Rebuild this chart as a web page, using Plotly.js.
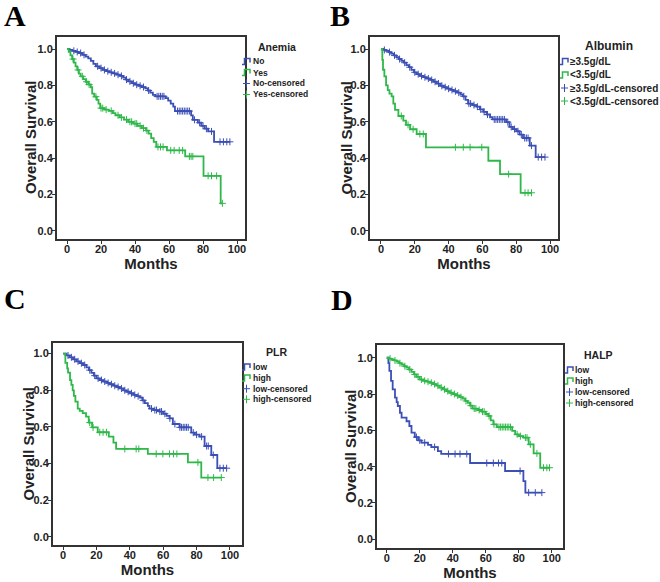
<!DOCTYPE html>
<html>
<head>
<meta charset="utf-8">
<script src="https://cdn.plot.ly/plotly-3.0.1.min.js"></script>
<style>
  html, body { margin: 0; padding: 0; background: #fff; }
  #chart { width: 660px; height: 582px; }
</style>
</head>
<body>
<div id="chart"></div>
<script>
// ---- data (event times in months, survival after each event) ----

// A: Anemia
const aNoTimes = [1.5, 3, 5, 7, 9, 11, 12.5, 14, 15.5, 17, 19, 21, 23, 25, 27, 29, 31, 33, 34.5, 36, 38, 40, 42, 44, 46, 47.5, 49, 50.5, 52, 58, 59.5, 61, 62.5, 63.5, 73, 74, 77, 79, 81, 83, 86.5];
const aNoSurv = [0.995, 0.99, 0.984, 0.978, 0.968, 0.958, 0.948, 0.935, 0.918, 0.905, 0.895, 0.885, 0.878, 0.872, 0.866, 0.859, 0.852, 0.843, 0.832, 0.822, 0.812, 0.804, 0.798, 0.791, 0.784, 0.772, 0.76, 0.748, 0.74, 0.73, 0.716, 0.70, 0.683, 0.659, 0.635, 0.611, 0.595, 0.578, 0.562, 0.547, 0.49];
const aNoCensor = [4, 6, 8, 10, 18, 20, 22, 24, 26, 28, 30, 32, 35, 37, 39, 41, 43, 45, 48, 53, 54, 55, 56, 57, 65, 66, 67, 68, 69, 70, 71, 72, 75, 78, 80, 82, 85, 90, 92, 94, 95.8];
const aYesTimes = [1, 2, 3, 4, 5, 6, 7, 8, 9.5, 11, 12.5, 14, 14.8, 16, 17.5, 18.5, 19.5, 22, 24.5, 27, 28.5, 31, 33.5, 36, 39, 41.5, 44, 46.5, 48, 49.5, 51, 52.5, 58.8, 69.5, 80.3, 90.4];
const aYesSurv = [0.985, 0.965, 0.945, 0.925, 0.905, 0.885, 0.865, 0.85, 0.835, 0.82, 0.805, 0.79, 0.755, 0.738, 0.72, 0.7, 0.675, 0.667, 0.66, 0.648, 0.636, 0.624, 0.612, 0.6, 0.59, 0.578, 0.565, 0.552, 0.535, 0.51, 0.49, 0.462, 0.443, 0.41, 0.303, 0.152];
const aYesCensor = [3.5, 6.5, 9, 11.5, 13, 17, 20, 21, 23, 26, 30, 32, 35, 37, 38, 40, 41, 43, 45, 47, 53.5, 55, 56.5, 61, 63, 66, 68, 72, 73, 74, 83, 85, 88, 91.4];

// B: Albumin
const bHiTimes = [1.5, 3, 4.5, 6, 7.5, 9, 10.5, 12, 13.5, 15, 16.5, 18, 19.5, 21, 23, 25, 27, 29, 31, 33, 35, 37, 39, 41, 43, 45, 47, 48.5, 50, 51.5, 54, 56.5, 58.5, 60.5, 62.5, 64.5, 66, 74, 76, 78, 80, 82, 84, 88, 91.5];
const bHiSurv = [0.995, 0.99, 0.983, 0.975, 0.965, 0.955, 0.945, 0.935, 0.925, 0.912, 0.9, 0.885, 0.872, 0.862, 0.852, 0.845, 0.838, 0.83, 0.82, 0.81, 0.798, 0.79, 0.782, 0.775, 0.768, 0.76, 0.75, 0.74, 0.72, 0.7, 0.692, 0.683, 0.668, 0.655, 0.64, 0.625, 0.613, 0.598, 0.572, 0.56, 0.548, 0.53, 0.511, 0.469, 0.406];
const bHiCensor = [2, 5, 8, 11, 14, 17, 20, 22, 24, 26, 28, 30, 32, 34, 36, 38, 40, 42, 44, 46, 49, 52, 53, 55, 57, 59, 61, 63, 67, 68, 69, 70, 71, 72, 73, 75, 77, 79, 81, 83, 85, 86, 87, 89, 93, 95, 97];
const bLoTimes = [0.8, 1.2, 2, 3, 4, 5, 6.3, 7.3, 8.3, 10.3, 13.2, 14.8, 17.2, 21.1, 26.6, 63.5, 70.4, 82.6];
const bLoSurv = [0.94, 0.886, 0.85, 0.80, 0.774, 0.755, 0.74, 0.70, 0.665, 0.632, 0.607, 0.583, 0.559, 0.533, 0.46, 0.386, 0.3125, 0.21];
const bLoCensor = [12, 16, 19, 23, 25, 44, 48.7, 52.7, 59.6, 75.5, 85.2, 87, 89];

// C: PLR
const cLowTimes = [2, 4, 6, 8, 10, 12, 14, 15.5, 17, 18.5, 20, 22, 24, 26, 28, 30, 32, 34, 36, 38, 40, 42, 44, 46, 47.5, 49, 50.8, 51.8, 54, 57.8, 60, 62, 63.8, 65.8, 69.8, 76.8, 79, 81.8, 84.8, 88.8, 92.4];
const cLowSurv = [0.99, 0.98, 0.969, 0.958, 0.948, 0.938, 0.925, 0.91, 0.895, 0.88, 0.865, 0.856, 0.848, 0.84, 0.833, 0.825, 0.818, 0.81, 0.8, 0.792, 0.784, 0.775, 0.768, 0.76, 0.745, 0.73, 0.715, 0.70, 0.692, 0.684, 0.672, 0.66, 0.647, 0.616, 0.598, 0.569, 0.558, 0.547, 0.496, 0.447, 0.375];
const cLowCensor = [3, 5, 7, 9, 11, 13, 16, 19, 21, 23, 25, 27, 29, 31, 33, 35, 37, 39, 41, 43, 45, 48, 53, 55, 56, 58, 59, 61, 64, 67, 70, 71, 72, 73, 74, 75, 78, 80, 83, 86, 87, 90, 94, 96, 98];
const cHighTimes = [1.4, 2.5, 3, 4.2, 5, 5.8, 6.5, 7.4, 8.8, 10, 11.8, 13.8, 15.4, 17.4, 20.8, 27.4, 30.2, 31.8, 50.8, 74.8, 82.8];
const cHighSurv = [0.95, 0.92, 0.896, 0.856, 0.83, 0.80, 0.77, 0.738, 0.70, 0.688, 0.675, 0.656, 0.624, 0.598, 0.571, 0.547, 0.515, 0.48, 0.453, 0.407, 0.324];
const cHighCensor = [16, 18, 22, 24, 26, 37, 43.8, 45.4, 55.8, 59.8, 63.8, 66.2, 68.2, 80.8, 86.8, 90.2, 94.8];

// D: HALP
const dLowTimes = [1, 1.6, 2.6, 3.6, 5, 6, 6.7, 8, 9, 12, 13.7, 15, 17, 19, 21, 25, 27, 31, 33, 50.5, 71.7, 82.8, 84];
const dLowSurv = [0.97, 0.927, 0.872, 0.826, 0.78, 0.755, 0.734, 0.697, 0.67, 0.65, 0.624, 0.587, 0.563, 0.545, 0.532, 0.52, 0.508, 0.486, 0.47, 0.42, 0.376, 0.32, 0.257];
const dLowCensor = [18, 20, 23, 29, 37.4, 41.4, 44.4, 48.5, 60.6, 64.6, 67.7, 69.7, 80.8, 86, 90, 94];
const dHighTimes = [1.5, 3, 4.5, 6, 7.5, 9, 10.5, 12, 13.5, 15, 16.5, 18, 20, 22, 24, 26, 28, 30, 32, 34, 36, 38, 40, 42, 44, 46, 47.5, 49, 50.5, 52, 55, 57.6, 60, 61.6, 63, 64.6, 66.7, 76, 77.8, 80, 82.8, 86, 89, 93];
const dHighSurv = [0.995, 0.99, 0.985, 0.978, 0.97, 0.962, 0.953, 0.945, 0.935, 0.922, 0.908, 0.895, 0.88, 0.873, 0.868, 0.862, 0.855, 0.846, 0.835, 0.826, 0.816, 0.807, 0.8, 0.792, 0.783, 0.775, 0.762, 0.752, 0.736, 0.72, 0.712, 0.703, 0.69, 0.679, 0.655, 0.633, 0.618, 0.597, 0.578, 0.568, 0.56, 0.523, 0.473, 0.394];
const dHighCensor = [2, 5, 8, 11, 14, 17, 19, 21, 23, 25, 27, 29, 31, 33, 35, 37, 39, 41, 43, 45, 48, 51, 53, 54, 56, 58, 59, 62, 65, 68, 69, 70, 71, 72, 73, 74, 75, 79, 81, 84, 85, 87, 91, 95, 97, 98.6];

const panelLetters = ['A', 'B', 'C', 'D'];
const legendTitles = ['Anemia', 'Albumin', 'PLR', 'HALP'];
const legendLabels = [
    ['No', 'Yes', 'No-censored', 'Yes-censored'],
    ['≥3.5g/dL', '&lt;3.5g/dL', '≥3.5g/dL-censored', '&lt;3.5g/dL-censored'],
    ['low', 'high', 'low-censored', 'high-censored'],
    ['low', 'high', 'low-censored', 'high-censored']
];
const xTicks = [0, 20, 40, 60, 80, 100];
const yTicks = [0, 0.2, 0.4, 0.6, 0.8, 1.0];

const BLUE = '#3b4fb5';
const GREEN = '#2fb84a';
const W = 660, H = 582;
const SANS = 'Liberation Sans, Arial, sans-serif';

// each panel: two groups, [times, surv, censored, colour]
const panels = [
    [[aNoTimes, aNoSurv, aNoCensor, BLUE], [aYesTimes, aYesSurv, aYesCensor, GREEN]],
    [[bHiTimes, bHiSurv, bHiCensor, BLUE], [bLoTimes, bLoSurv, bLoCensor, GREEN]],
    [[cLowTimes, cLowSurv, cLowCensor, BLUE], [cHighTimes, cHighSurv, cHighCensor, GREEN]],
    [[dLowTimes, dLowSurv, dLowCensor, BLUE], [dHighTimes, dHighSurv, dHighCensor, GREEN]]
];

// plot boxes in pixels: [left, right, top, bottom], axis ranges
const boxes = [
    {l: 57, r: 245, t: 37, b: 239, xr: [-5.9, 104.7], yr: [-0.044, 1.066]},
    {l: 370, r: 558, t: 37, b: 239, xr: [-6.5, 104.7], yr: [-0.044, 1.066]},
    {l: 53, r: 242, t: 343, b: 545, xr: [-6.0, 107.2], yr: [-0.044, 1.058]},
    {l: 377, r: 563, t: 345, b: 548, xr: [-5.9, 106.8], yr: [-0.048, 1.07]}
];
// y title x centre in pixels
const yTitleX = [30, 345.5, 27.5, 350.5];
// legend placement in pixels
const legendPos = [
    {tx: 277, ty: 47, rows: [61.5, 72.5, 83.5, 94.5], sx: 242, txt: 251, fs: 8.5, tfs: 10.5},
    {tx: 609, ty: 46, rows: [61.5, 75, 88, 101], sx: 560, txt: 568, fs: 10, tfs: 12},
    {tx: 276, ty: 352, rows: [367, 378, 388.7, 399.3], sx: 242, txt: 250.5, fs: 8.5, tfs: 10.5},
    {tx: 598, ty: 355, rows: [370, 381, 392, 403], sx: 565, txt: 573, fs: 8.5, tfs: 10.5}
];
const letterPos = [[15, 15], [340, 15], [15, 298], [342, 300]];

const px = x => x / W;
const py = y => 1 - y / H;

function survAt(times, surv, x) {
    let v = 1;
    for (let i = 0; i < times.length; i++) {
        if (times[i] <= x) v = surv[i];
    }
    return v;
}

const traces = [];
const layout = {
    width: W, height: H,
    margin: {l: 0, r: 0, t: 0, b: 0},
    paper_bgcolor: '#fff', plot_bgcolor: '#fff',
    showlegend: false,
    font: {family: SANS, color: '#222'},
    annotations: [],
    shapes: []
};

panels.forEach((groups, p) => {
    const n = p === 0 ? '' : String(p + 1);
    const bx = boxes[p];

    groups.forEach(g => {
        const [times, surv, cens, color] = g;
        const end = Math.max(...cens, times[times.length - 1]);
        traces.push({
            x: [0, ...times, end],
            y: [1, ...surv, surv[surv.length - 1]],
            type: 'scatter', mode: 'lines',
            line: {color: color, width: 1.8, shape: 'hv'},
            xaxis: 'x' + n, yaxis: 'y' + n, hoverinfo: 'skip'
        });
        traces.push({
            x: cens,
            y: cens.map(c => survAt(times, surv, c)),
            type: 'scatter', mode: 'markers',
            marker: {symbol: 'cross-thin', size: 5, line: {color: color, width: 1}},
            xaxis: 'x' + n, yaxis: 'y' + n, hoverinfo: 'skip'
        });
    });

    const axisCommon = {
        showline: true, mirror: true, linecolor: '#333', linewidth: 2,
        showgrid: false, zeroline: false,
        ticks: 'outside', ticklen: 3, tickcolor: '#333', tickwidth: 1,
        tickfont: {family: SANS, size: 11, weight: 700, color: '#222'}
    };
    layout['xaxis' + n] = Object.assign({}, axisCommon, {
        domain: [px(bx.l), px(bx.r)], range: bx.xr, anchor: 'y' + n,
        tickvals: xTicks, ticktext: xTicks.map(v => '<b>' + v + '</b>'),
        ticklabelstandoff: -4,
        title: {text: 'Months', font: {family: SANS, size: 15, weight: 700, color: '#222'}, standoff: 3}
    });
    layout['yaxis' + n] = Object.assign({}, axisCommon, {
        domain: [py(bx.b), py(bx.t)], range: bx.yr, anchor: 'x' + n,
        tickvals: yTicks, ticktext: yTicks.map(v => '<b>' + v.toFixed(1) + '</b>'),
        ticklabelstandoff: -3
    });

    // y axis title
    layout.annotations.push({
        xref: 'paper', yref: 'paper', x: px(yTitleX[p]), y: py((bx.t + bx.b) / 2),
        text: 'Overall Survival', textangle: -90, showarrow: false,
        xanchor: 'center', yanchor: 'middle',
        font: {family: SANS, size: 15, weight: 700, color: '#222'}
    });

    // panel letter
    layout.annotations.push({
        xref: 'paper', yref: 'paper', x: px(letterPos[p][0]), y: py(letterPos[p][1]),
        text: panelLetters[p], showarrow: false, xanchor: 'center', yanchor: 'middle',
        font: {family: 'Liberation Serif, Times New Roman, serif', size: 30, weight: 700, color: '#000'}
    });

    // legend
    const lg = legendPos[p];
    layout.annotations.push({
        xref: 'paper', yref: 'paper', x: px(lg.tx), y: py(lg.ty),
        text: legendTitles[p], showarrow: false, xanchor: 'center', yanchor: 'middle',
        font: {family: SANS, size: lg.tfs, weight: 700, color: '#222'}
    });
    legendLabels[p].forEach((lab, i) => {
        const row = lg.rows[i];
        const color = i % 2 === 0 ? groups[0][3] : groups[1][3];
        layout.annotations.push({
            xref: 'paper', yref: 'paper', x: px(lg.txt), y: py(row),
            text: lab, showarrow: false, xanchor: 'left', yanchor: 'middle',
            font: {family: SANS, size: lg.fs, weight: 700, color: '#222'}
        });
        if (i < 2) {
            const x0 = lg.sx, x1 = lg.sx + 2.5, x2 = lg.sx + 8;
            const yb = row + 3, yt = row - 3;
            layout.shapes.push({
                type: 'path', xref: 'paper', yref: 'paper',
                path: `M ${px(x0)} ${py(yb)} L ${px(x1)} ${py(yb)} L ${px(x1)} ${py(yt)} L ${px(x2)} ${py(yt)} L ${px(x2)} ${py(row + 1)}`,
                line: {color: color, width: 1.5}
            });
        } else {
            layout.shapes.push({
                type: 'line', xref: 'paper', yref: 'paper',
                x0: px(lg.sx + 1), x1: px(lg.sx + 8), y0: py(row), y1: py(row),
                line: {color: color, width: 1}
            });
            layout.shapes.push({
                type: 'line', xref: 'paper', yref: 'paper',
                x0: px(lg.sx + 4.5), x1: px(lg.sx + 4.5), y0: py(row - 4), y1: py(row + 4),
                line: {color: color, width: 1}
            });
        }
    });
});

Plotly.newPlot('chart', traces, layout, {displayModeBar: false, staticPlot: true});
</script>
</body>
</html>
